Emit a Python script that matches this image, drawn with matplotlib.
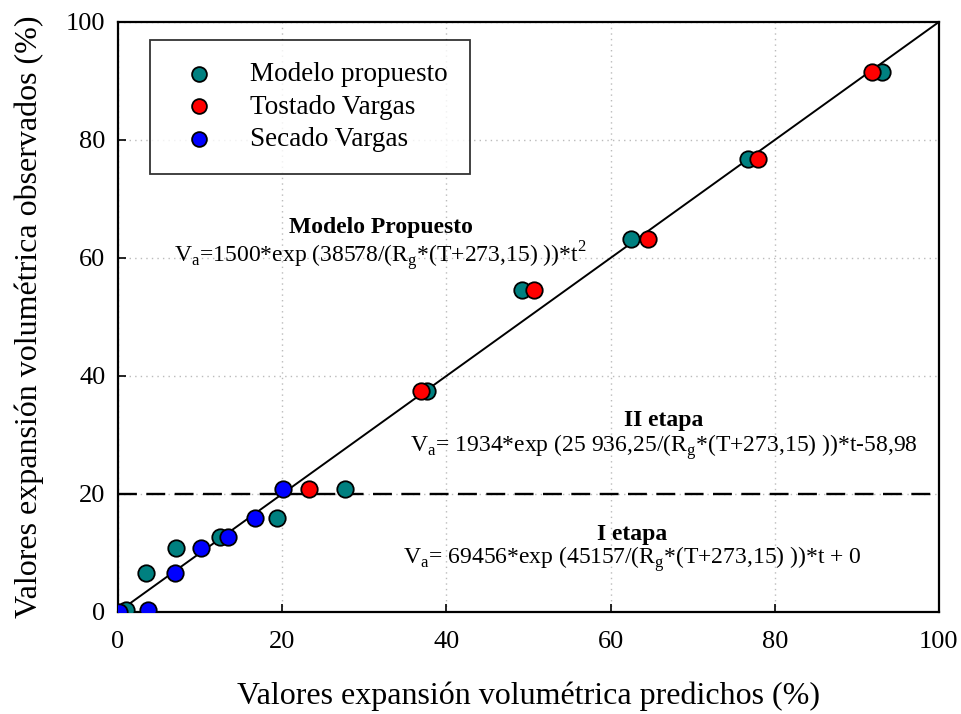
import matplotlib
matplotlib.use("Agg")
import matplotlib.pyplot as plt

plt.rcParams['font.family'] = ['Liberation Serif', 'DejaVu Serif']
plt.rcParams['mathtext.fontset'] = 'custom'
plt.rcParams['mathtext.rm'] = 'Liberation Serif'

# Data
modelo_x = [93.1, 76.7, 62.5, 49.2, 37.7, 27.7, 19.4, 12.4, 7.1, 3.4, 1.0]
modelo_y = [91.6, 76.7, 63.3, 54.6, 37.5, 20.9, 16.0, 12.7, 10.9, 6.6, 0.3]
tostado_x = [91.8, 78.0, 64.6, 50.7, 36.9, 23.3]
tostado_y = [91.6, 76.7, 63.3, 54.6, 37.5, 20.9]
secado_x = [20.1, 16.7, 13.4, 10.1, 7.0, 3.7, 0.1]
secado_y = [20.9, 16.0, 12.7, 10.9, 6.6, 0.3, 0.0]
line_x = [0, 100]
line_y = [0, 100]
threshold = 20
ticks = [0, 20, 40, 60, 80, 100]

fig = plt.figure(figsize=(9.61, 7.14), dpi=100)
ax = fig.add_axes([0.1228, 0.1429, 0.8542, 0.8263])

ax.grid(True, linestyle=(0, (1, 3)), color='#bbbbbb', linewidth=1.0)
ax.set_axisbelow(True)

ax.plot(line_x, line_y, color='black', linewidth=1.4, zorder=2)
ax.axhline(threshold, color='black', linestyle=(0, (8, 4)), linewidth=1.7, zorder=2)

ms = 140
ax.scatter(modelo_x, modelo_y, s=ms, c='#008080', edgecolors='black', linewidths=1.3, zorder=3, label='Modelo propuesto')
ax.scatter(tostado_x, tostado_y, s=ms, c='#ff0000', edgecolors='black', linewidths=1.3, zorder=4, label='Tostado Vargas')
ax.scatter(secado_x, secado_y, s=ms, c='#0000ff', edgecolors='black', linewidths=1.3, zorder=5, label='Secado Vargas')

ax.set_xlim(0, 100)
ax.set_ylim(0, 100)
ax.set_xticks(ticks)
ax.set_yticks(ticks)
ax.tick_params(axis='x', pad=14)
ax.tick_params(axis='y', pad=9)
ax.tick_params(direction='in', length=6, width=1.2, labelsize=19,
               top=False, right=False)
for s in ax.spines.values():
    s.set_linewidth(1.6)

ax.set_xlabel('Valores expansión volumétrica predichos (%)', fontsize=23, labelpad=20)
ax.set_ylabel('Valores expansión volumétrica observados (%)', fontsize=23, labelpad=16)

leg = ax.legend(loc='upper left', bbox_to_anchor=(0.039, 0.969), fontsize=19.5,
                frameon=True, fancybox=False, edgecolor='black', handletextpad=0.9,
                borderpad=0.8, labelspacing=0.28, markerscale=0.9, borderaxespad=0,
                handlelength=2.0)
leg.get_frame().set_linewidth(1.3)

fs = 17
ax.text(32, 65.1, 'Modelo Propuesto', fontsize=fs, fontweight='bold', ha='center', va='center')
ax.text(32, 60.3, r'V$_\mathregular{a}$=1500*exp (38578/(R$_\mathregular{g}$*(T+273,15) ))*t$^\mathregular{2}$',
        fontsize=fs, ha='center', va='center')
ax.text(66.5, 32.5, 'II etapa', fontsize=fs, fontweight='bold', ha='center', va='center')
ax.text(66.5, 27.9, r'V$_\mathregular{a}$= 1934*exp (25 936,25/(R$_\mathregular{g}$*(T+273,15) ))*t-58,98',
        fontsize=fs, ha='center', va='center')
ax.text(62.6, 13.1, 'I etapa', fontsize=fs, fontweight='bold', ha='center', va='center')
ax.text(62.6, 8.9, r'V$_\mathregular{a}$= 69456*exp (45157/(R$_\mathregular{g}$*(T+273,15) ))*t + 0',
        fontsize=fs, ha='center', va='center')

fig.savefig('out.png', dpi=100)
